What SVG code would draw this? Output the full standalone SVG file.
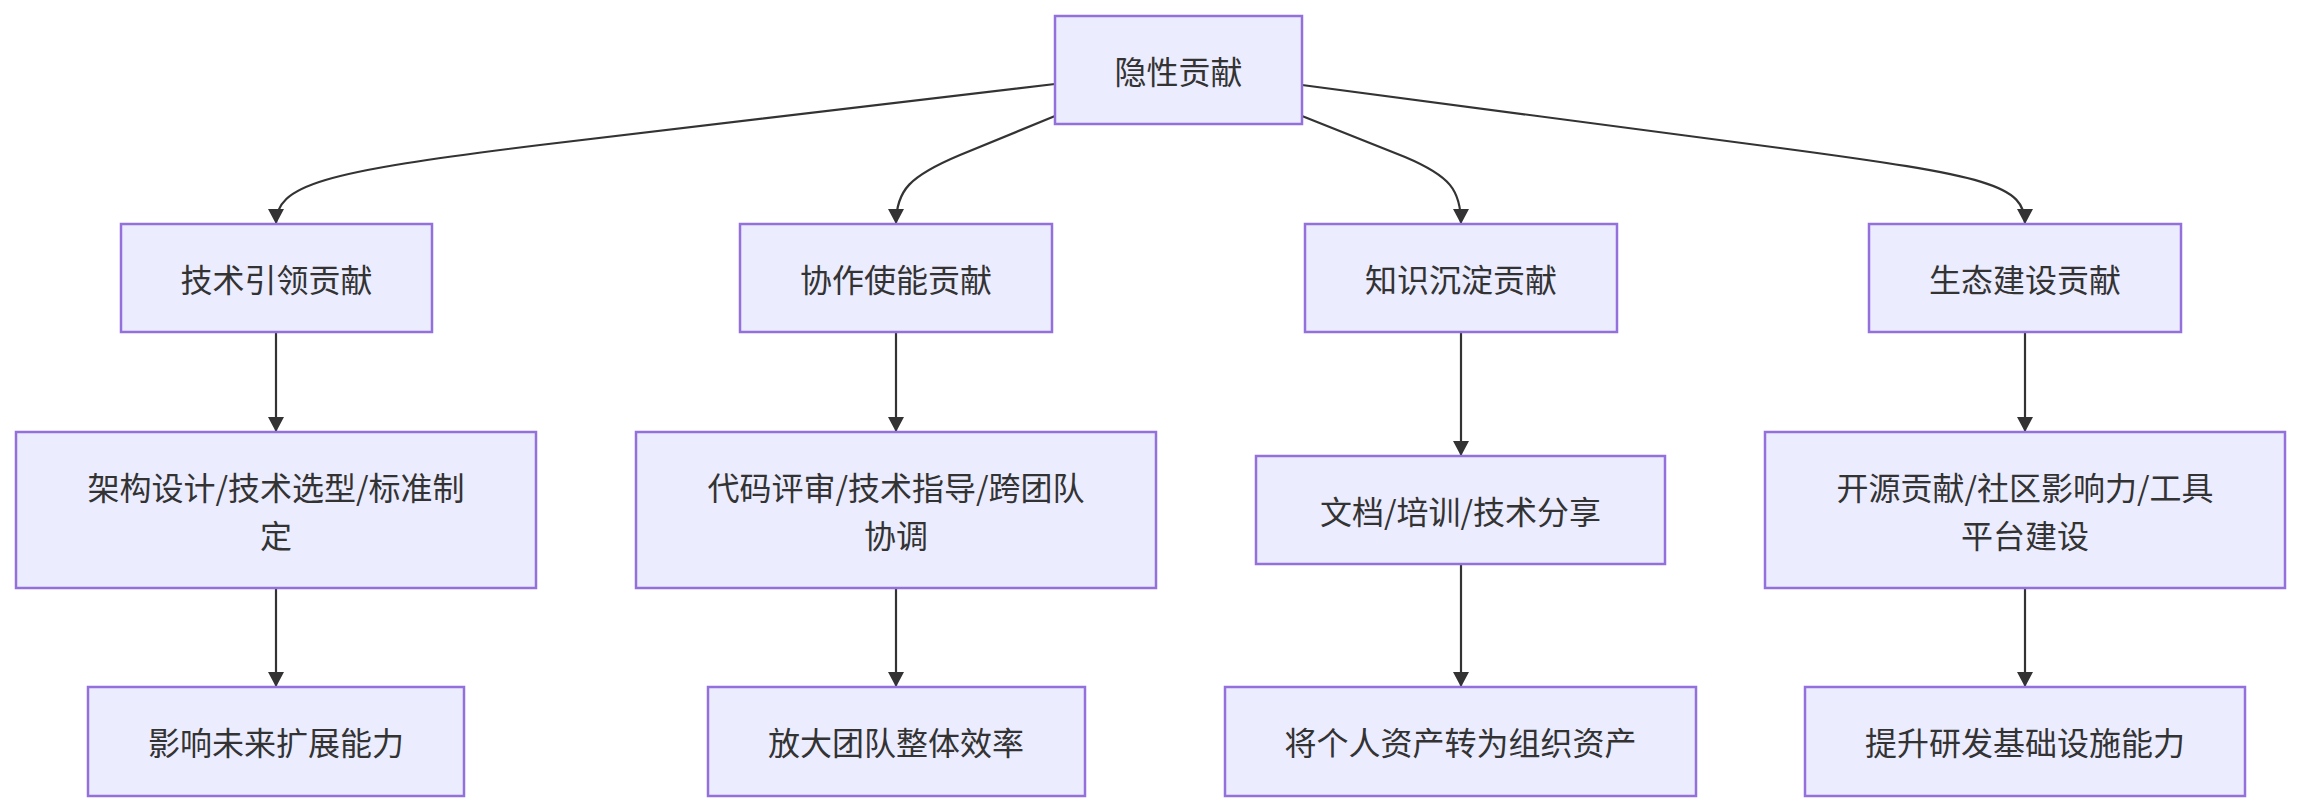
<svg xmlns="http://www.w3.org/2000/svg" width="2301" height="812" viewBox="0 0 2301 812">
<style>
.node rect{fill:#ECECFF;stroke:#9370DB;stroke-width:2.5px}
.node text{font-family:"Noto Sans CJK SC","Noto Sans",sans-serif;font-size:32px;fill:#333;text-anchor:middle;dominant-baseline:central}
.edges path{fill:none;stroke:#333;stroke-width:2.2px;marker-end:url(#arrow)}
</style>
<defs>
<marker id="arrow" viewBox="0 0 15 16" refX="15" refY="8" markerUnits="userSpaceOnUse" markerWidth="15" markerHeight="16" orient="auto">
<path d="M0,0 L15,8 L0,16 z" fill="#333" stroke="none"/>
</marker>
</defs>
<rect width="2301" height="812" fill="#fff"/>
<g class="edges">
<path d="M1055,84 L540,145 C320,172 276,185 276,224"/>
<path d="M1055,116 L960,155 C910,176 896,190 896,224"/>
<path d="M1302,116 L1405,157 C1450,176 1461,190 1461,224"/>
<path d="M1302,85 L1780,148 C1990,176 2025,185 2025,224"/>
<path d="M276,332 L276,432"/>
<path d="M896,332 L896,432"/>
<path d="M1461,332 L1461,456"/>
<path d="M2025,332 L2025,432"/>
<path d="M276,588 L276,687"/>
<path d="M896,588 L896,687"/>
<path d="M1461,564 L1461,687"/>
<path d="M2025,588 L2025,687"/>
</g>
<g id="root" class="node"><rect x="1055" y="16" width="247" height="108"/><text x="1178.5" y="70">隐性贡献</text></g>
<g id="tech" class="node"><rect x="121" y="224" width="311" height="108"/><text x="276.5" y="278">技术引领贡献</text></g>
<g id="collab" class="node"><rect x="740" y="224" width="312" height="108"/><text x="896" y="278">协作使能贡献</text></g>
<g id="know" class="node"><rect x="1305" y="224" width="312" height="108"/><text x="1461" y="278">知识沉淀贡献</text></g>
<g id="eco" class="node"><rect x="1869" y="224" width="312" height="108"/><text x="2025" y="278">生态建设贡献</text></g>
<g id="tech2" class="node"><rect x="16" y="432" width="520" height="156"/><text x="276" y="486">架构设计/技术选型/标准制</text><text x="276" y="534">定</text></g>
<g id="collab2" class="node"><rect x="636" y="432" width="520" height="156"/><text x="896" y="486">代码评审/技术指导/跨团队</text><text x="896" y="534">协调</text></g>
<g id="know2" class="node"><rect x="1256" y="456" width="409" height="108"/><text x="1460.5" y="510">文档/培训/技术分享</text></g>
<g id="eco2" class="node"><rect x="1765" y="432" width="520" height="156"/><text x="2025" y="486">开源贡献/社区影响力/工具</text><text x="2025" y="534">平台建设</text></g>
<g id="tech3" class="node"><rect x="88" y="687" width="376" height="109"/><text x="276" y="741">影响未来扩展能力</text></g>
<g id="collab3" class="node"><rect x="708" y="687" width="377" height="109"/><text x="896" y="741">放大团队整体效率</text></g>
<g id="know3" class="node"><rect x="1225" y="687" width="471" height="109"/><text x="1460.5" y="741">将个人资产转为组织资产</text></g>
<g id="eco3" class="node"><rect x="1805" y="687" width="440" height="109"/><text x="2025" y="741">提升研发基础设施能力</text></g>
</svg>
